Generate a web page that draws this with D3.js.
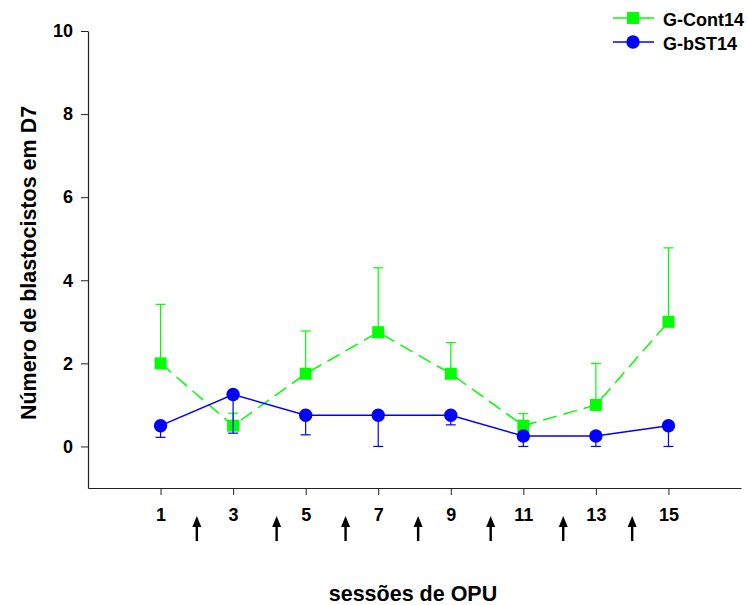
<!DOCTYPE html>
<html>
<head>
<meta charset="utf-8">
<script src="https://cdn.jsdelivr.net/npm/d3@7"></script>
<style>
  html, body { margin: 0; padding: 0; background: #fff; }
  svg { display: block; font-family: "Liberation Sans", Arial, sans-serif; }
</style>
</head>
<body>
<svg id="chart" width="748" height="605"></svg>
<script>
// ---- data ----
const sessions = [1, 3, 5, 7, 9, 11, 13, 15];
const contMean = [2.0, 0.5, 1.75, 2.75, 1.75, 0.5, 1.0, 3.0];
const contUpper = [3.42, 0.8, 2.78, 4.3, 2.5, 0.79, 2.0, 4.78];
const bstMean = [0.5, 1.25, 0.75, 0.75, 0.75, 0.25, 0.25, 0.5];
const bstLower = [0.22, 0.32, 0.28, 0.0, 0.52, 0.0, 0.0, 0.0];
const yTicks = [0, 2, 4, 6, 8, 10];
const arrowSessions = [2, 4.2, 6.1, 8.1, 10.1, 12.1, 14.0];
const seriesNames = ["G-Cont14", "G-bST14"];
const xTitle = "sessões de OPU";
const yTitle = "Número de blastocistos em D7";

// ---- layout ----
const svg = d3.select("#chart");
const x = d3.scaleLinear().domain([-1, 17]).range([88, 741]);
const y = d3.scaleLinear().domain([-1, 10]).range([488, 31]);
const green = "#00ff00", blue = "#0000ff";

// axes
const yAxis = d3.axisLeft(y).tickValues(yTicks).tickSize(7).tickPadding(8).tickSizeOuter(0);
const gy = svg.append("g").attr("transform", `translate(${x(-1)},0)`).call(yAxis);
const xAxis = d3.axisBottom(x).tickValues(sessions).tickSize(7).tickPadding(13).tickSizeOuter(0);
const gx = svg.append("g").attr("transform", `translate(0,${y(-1)})`).call(xAxis);
[gy, gx].forEach(g => {
  g.select(".domain").attr("stroke", "#222").attr("stroke-width", 1.2);
  g.selectAll(".tick line").attr("stroke", "#222");
  g.selectAll(".tick text").attr("fill", "#000").style("font-size", "18px").style("font-weight", "bold")
   .style("font-family", "'Liberation Sans', Arial, sans-serif");
});

// titles
svg.append("text").attr("x", 413).attr("y", 601)
  .attr("text-anchor", "middle").style("font-size", "21.5px").style("font-weight", "bold").text(xTitle);
svg.append("text").attr("transform", `translate(36,263) rotate(-90)`)
  .attr("text-anchor", "middle").style("font-size", "21.5px").style("font-weight", "bold").text(yTitle);

// ---- green series (G-Cont14) ----
const cont = sessions.map((s, i) => ({ s, m: contMean[i], u: contUpper[i] }));
const bst = sessions.map((s, i) => ({ s, m: bstMean[i], l: bstLower[i] }));
const capW = 5;

const gc = svg.append("g");
gc.selectAll("line.err").data(cont).join("line")
  .attr("x1", d => x(d.s)).attr("x2", d => x(d.s))
  .attr("y1", d => y(d.m)).attr("y2", d => y(d.u))
  .attr("stroke", green).attr("stroke-width", 1.2);
gc.selectAll("line.cap").data(cont).join("line")
  .attr("x1", d => x(d.s) - capW).attr("x2", d => x(d.s) + capW)
  .attr("y1", d => y(d.u)).attr("y2", d => y(d.u))
  .attr("stroke", green).attr("stroke-width", 1.2);
gc.append("path").datum(cont)
  .attr("d", d3.line().x(d => x(d.s)).y(d => y(d.m)))
  .attr("fill", "none").attr("stroke", green).attr("stroke-width", 1.5)
  .attr("stroke-dasharray", "14,7");
gc.selectAll("rect.pt").data(cont).join("rect")
  .attr("x", d => x(d.s) - 6).attr("y", d => y(d.m) - 6)
  .attr("width", 12).attr("height", 12).attr("fill", green);

// ---- blue series (G-bST14) ----
const gb = svg.append("g");
gb.selectAll("line.err").data(bst).join("line")
  .attr("x1", d => x(d.s)).attr("x2", d => x(d.s))
  .attr("y1", d => y(d.m)).attr("y2", d => y(d.l))
  .attr("stroke", blue).attr("stroke-width", 1.2);
gb.selectAll("line.cap").data(bst).join("line")
  .attr("x1", d => x(d.s) - capW).attr("x2", d => x(d.s) + capW)
  .attr("y1", d => y(d.l)).attr("y2", d => y(d.l))
  .attr("stroke", blue).attr("stroke-width", 1.2);
gb.append("path").datum(bst)
  .attr("d", d3.line().x(d => x(d.s)).y(d => y(d.m)))
  .attr("fill", "none").attr("stroke", blue).attr("stroke-width", 1.5);
gb.selectAll("circle.pt").data(bst).join("circle")
  .attr("cx", d => x(d.s)).attr("cy", d => y(d.m)).attr("r", 6.7).attr("fill", blue);

// ---- arrows ----
const ga = svg.append("g");
arrowSessions.forEach(a => {
  const ax = x(a);
  ga.append("line").attr("x1", ax).attr("x2", ax).attr("y1", 524).attr("y2", 541)
    .attr("stroke", "#000").attr("stroke-width", 2.4);
  ga.append("path").attr("d", `M${ax},516 L${ax - 4.5},527 L${ax + 4.5},527 Z`).attr("fill", "#000");
});

// ---- legend ----
const leg = svg.append("g");
const legItems = [
  { name: seriesNames[0], color: green, shape: "square", y: 18 },
  { name: seriesNames[1], color: blue, shape: "circle", y: 42 }
];
legItems.forEach(it => {
  leg.append("line").attr("x1", 613).attr("x2", 654).attr("y1", it.y).attr("y2", it.y)
    .attr("stroke", it.color).attr("stroke-width", 1.5);
  if (it.shape === "square") {
    leg.append("rect").attr("x", 627).attr("y", it.y - 6).attr("width", 12).attr("height", 12).attr("fill", it.color);
  } else {
    leg.append("circle").attr("cx", 633).attr("cy", it.y).attr("r", 6.7).attr("fill", it.color);
  }
  leg.append("text").attr("x", 663).attr("y", it.y + 7.5).style("font-size", "18px").style("font-weight", "bold").text(it.name);
});
</script>
</body>
</html>
